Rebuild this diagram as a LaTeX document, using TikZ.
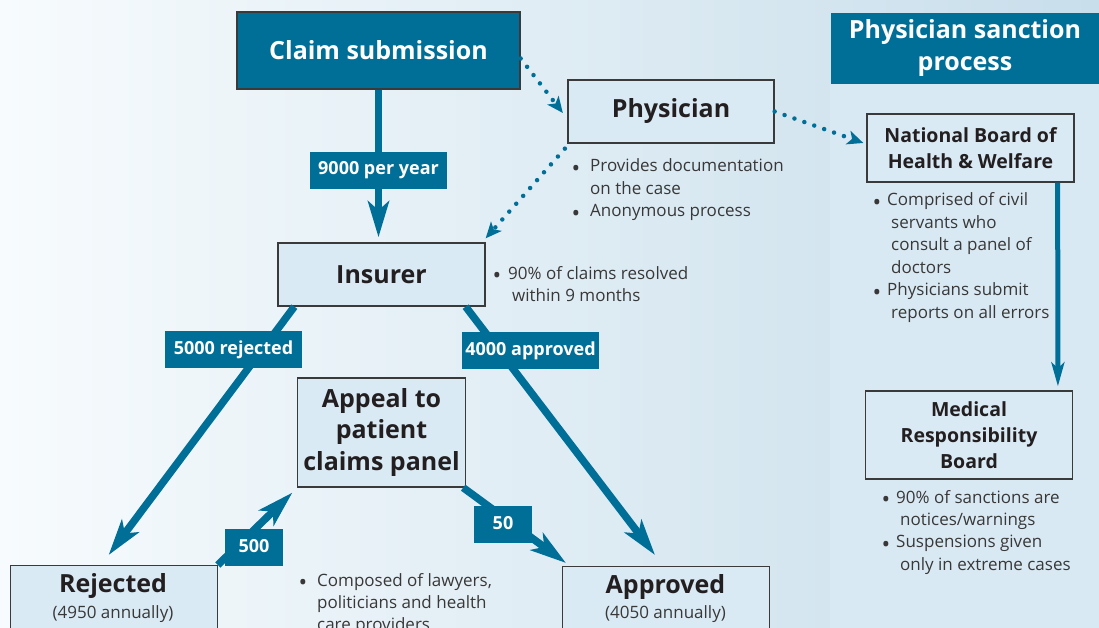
\documentclass[tikz,border=0pt]{standalone}
\usepackage{fontspec}
\setmainfont{Open Sans}
\usetikzlibrary{arrows.meta,calc}

\definecolor{flowteal}{HTML}{006F98}
\definecolor{boxfill}{HTML}{DAEAF4}
\definecolor{boxline}{HTML}{3A3A3A}
\definecolor{ink}{HTML}{231F20}
\definecolor{bodyink}{HTML}{383838}
\definecolor{bgleft}{HTML}{F7FBFD}
\definecolor{bgright}{HTML}{C8DEEB}
\definecolor{panel}{HTML}{D9E9F3}

% bullet of a given width, and a stack of lines with the first baseline on top
\newcommand\bitem[1]{\makebox[#1][l]{\hspace*{-0.5pt}{\fontsize{23}{22}\selectfont\raisebox{-4.8pt}{•}}}}
\newcommand\notelines[1]{\vtop{\halign{##\hfil\cr #1\crcr}}}

\tikzset{
  box/.style={draw=boxline, line width=1.3pt, fill=boxfill, inner sep=0pt,
    align=center, text=ink, font=\bfseries\fontsize{25}{31.5}\selectfont},
  smallbox/.style={box, font=\bfseries\fontsize{19.5}{26}\selectfont},
  tealbox/.style={box, fill=flowteal, text=white},
  tag/.style={fill=flowteal, text=white, inner sep=0pt, minimum height=37pt,
    text height=13pt, text depth=4pt, font=\bfseries\fontsize{18}{22}\selectfont},
  subtext/.style={text=bodyink, inner sep=0pt, font=\fontsize{17}{20}\selectfont},
  note/.style={text=bodyink, inner sep=0pt, anchor=base west,
    font=\fontsize{17}{22.4}\selectfont},
  flow/.style={draw=flowteal, line width=7.5pt,
    -{Stealth[length=36pt,width=21pt,inset=9pt]}},
  dotflow/.style={draw=flowteal, line width=4.5pt, line cap=round,
    dash pattern=on 0pt off 10.5pt,
    -{Stealth[length=16pt,width=14pt,inset=4pt]}},
  sideflow/.style={draw=flowteal, line width=5pt,
    -{Stealth[length=24pt,width=13pt,inset=6pt]}},
}

\begin{document}
\begin{tikzpicture}[x=1pt,y=-1pt]
\useasboundingbox (0,0) rectangle (1099,628);
\clip (0,0) rectangle (1099,628);

% background and side panel
\shade[left color=bgleft, right color=bgright] (0,0) rectangle (1099,628);
\fill[panel] (830,84) rectangle (1099,628);

% main flow boxes
\node[tealbox, minimum width=283pt, minimum height=77pt] (claim) at (378.5,50.5) {Claim submission};
\node[box, minimum width=206pt, minimum height=63pt] (phys) at (671,111.5) {Physician};
\node[box, minimum width=207pt, minimum height=63pt] (ins) at (381.5,274.5) {Insurer};
\node[box, minimum width=168pt, minimum height=109pt] (appeal) at (381.5,432.5) {Appeal to\\patient\\claims panel};
\node[box, minimum width=207pt, minimum height=90pt, anchor=north west] (rej) at (9.5,565) {};
\node[box, minimum width=207pt, minimum height=90pt, anchor=north west] (appr) at (562,566) {};
\node[text=ink, inner sep=0pt, anchor=base, font=\bfseries\fontsize{25}{30}\selectfont] (rejT) at (113,592) {Rejected};
\node[subtext, anchor=base] (rejN) at (113,618) {(4950 annually)};
\node[text=ink, inner sep=0pt, anchor=base, font=\bfseries\fontsize{25}{30}\selectfont] (apprT) at (665.5,593) {Approved};
\node[subtext, anchor=base] (apprN) at (665.5,618) {(4050 annually)};

% sanction process column
\node[fill=flowteal, text=white, inner sep=0pt, minimum width=269pt, minimum height=71pt,
  align=center, font=\bfseries\fontsize{25}{32}\selectfont] (hdr) at (965,48.5) {Physician sanction\\process};
\node[smallbox, minimum width=207pt, minimum height=68pt] (nb) at (970.5,148) {National Board of\\Health \& Welfare};
\node[smallbox, minimum width=206.5pt, minimum height=88pt] (mrb) at (969,435) {Medical\\Responsibility\\Board};

% connectors
\draw[flow] (claim.south) -- ($(claim.south |- ins.north)+(0,-5)$);
\draw[flow] ($(ins.south west)+(17,0)$) -- ($(rej.north)+(-5,-10)$);
\draw[flow] ($(ins.south east)+(-20,0)$) -- ($(appr.north west)+(93,-11)$);
\draw[flow] (rej.north east) -- ($(appeal.south west)+(-4.5,5)$);
\draw[flow] ($(appeal.south east)+(-3,0)$) -- ($(appr.north west)+(4,-3)$);

\draw[dotflow] ($(claim.east)+(0,8)$) -- ($(phys.west)+(-4.5,1.5)$);
\draw[dotflow] ($(phys.south west)+(-2.5,5)$) -- ($(ins.north east)+(0,-4)$);
\draw[dotflow] (phys.east) -- ($(nb.west)+(-3,-5)$);
\draw[sideflow] ($(nb.south east)+(-17,0)$) -- ($(mrb.north east)+(-15,-4)$);

% flow counts
\node[tag, minimum width=137pt] (t9000) at (378.5,170.5) {9000 per year};
\node[tag, minimum width=137pt] (t5000) at (233.5,349.5) {5000 rejected};
\node[tag, minimum width=137pt] (t4000) at (530.5,350.5) {4000 approved};
\node[tag, minimum width=58pt] (t500) at (254,547.5) {500};
\node[tag, minimum width=58pt] (t50) at (503,524.5) {50};

% bullet notes
\node[note] (physnote) at (572,172) {\notelines{\bitem{18pt}Provides documentation\cr
  \hspace*{18pt}on the case\cr
  \bitem{18pt}Anonymous process}};
\node[note] (insnote) at (493,279) {\notelines{\bitem{15pt}90\% of claims resolved\cr
  \hspace*{19pt}within 9 months}};
\node[note] (nbnote) at (873,206) {\notelines{\bitem{14pt}Comprised of civil\cr
  \hspace*{18pt}servants who\cr
  \hspace*{18pt}consult a panel of\cr
  \hspace*{18pt}doctors\cr
  \bitem{14pt}Physicians submit\cr
  \hspace*{18pt}reports on all errors}};
\node[note] (mrbnote) at (882,503) {\notelines{\bitem{14pt}90\% of sanctions are\cr
  \hspace*{18pt}notices/warnings\cr
  \bitem{14pt}Suspensions given\cr
  \hspace*{18pt}only in extreme cases}};
\node[note] (appnote) at (299,586) {\notelines{\bitem{18pt}Composed of lawyers,\cr
  \hspace*{18pt}politicians and health\cr
  \hspace*{18pt}care providers}};
\end{tikzpicture}
\end{document}
